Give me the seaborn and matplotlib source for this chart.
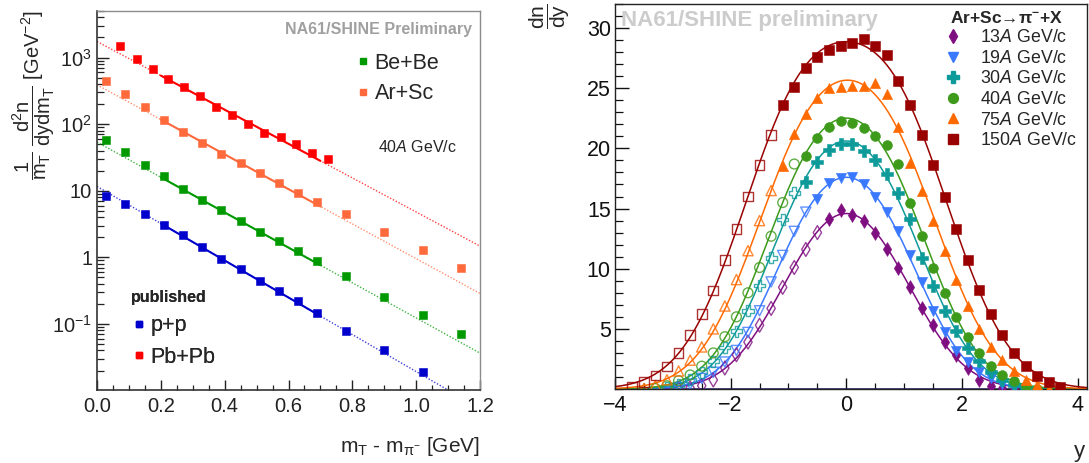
"""
NA61/SHINE negative pion spectra.

Left: transverse mass spectra at 40A GeV/c for p+p, Be+Be, Ar+Sc, Pb+Pb.
Right: Ar+Sc rapidity distributions at six beam momenta.
"""

import matplotlib

matplotlib.use("Agg")

import matplotlib.pyplot as plt
import numpy as np
import seaborn as sns
from matplotlib.lines import Line2D
from matplotlib.ticker import FixedLocator, FuncFormatter, LogLocator, MultipleLocator, NullFormatter

# ---------------------------------------------------------------------------
# Left panel data: 1/mT d2n/dydmT vs mT - m_pi  (40A GeV/c)
# ---------------------------------------------------------------------------
mt_x = [0.028, 0.088, 0.149, 0.209, 0.270, 0.330, 0.389, 0.450,
        0.510, 0.569, 0.630, 0.690, 0.780, 0.900, 1.021, 1.141]
mt_x_pbpb = [0.073, 0.124, 0.174, 0.223, 0.274, 0.324, 0.374,
             0.424, 0.474, 0.524, 0.575, 0.624, 0.674, 0.724]

spec_pp = [8.2, 6.3, 4.5, 3.1, 2.14, 1.45, 0.94, 0.66,
           0.447, 0.309, 0.224, 0.148, 0.079, 0.040, 0.0188]
spec_bebe = [57, 37.6, 24.5, 16.4, 10.8, 7.3, 5.1, 3.55,
             2.43, 1.78, 1.23, 0.89, 0.53, 0.25, 0.138, 0.070]
spec_arsc = [442, 279, 178, 115, 76, 52, 36, 26,
             18.2, 13.0, 9.3, 6.8, 4.5, 2.4, 1.27, 0.69]
spec_pbpb = [1514, 944, 676, 484, 367, 260, 178,
             138, 99, 74, 64, 51, 37, 30]

# exponential fits: value at mT - m = 0 and slope in decades per GeV
fit_norm = {"p+p": 11.6, "Be+Be": 53.7, "Ar+Sc": 389, "Pb+Pb": 1740}
fit_slope = {"p+p": 2.78, "Be+Be": 2.64, "Ar+Sc": 2.61, "Pb+Pb": 2.56}
fit_range = (0.2, 0.7)

# ---------------------------------------------------------------------------
# Right panel data: Ar+Sc -> pi- + X, dn/dy (filled = measured, open = reflected)
# ---------------------------------------------------------------------------
beam_labels = ["13", "19", "30", "40", "75", "150"]

y13 = [-0.3, -0.1, 0.1, 0.3, 0.5, 0.7, 0.9, 1.1, 1.3, 1.5, 1.7, 1.9, 2.1, 2.3, 2.5, 2.7, 2.9]
dn13 = [14.1, 14.9, 14.5, 14.0, 13.0, 11.6, 10.1, 8.45, 6.7, 5.3, 3.9, 2.85, 1.75, 0.75, 0.28, 0.08, 0.03]
y13_refl = [-2.9, -2.7, -2.5, -2.3, -2.1, -1.9, -1.7, -1.5, -1.3, -1.1, -0.9, -0.7, -0.5]
dn13_refl = [0.03, 0.08, 0.28, 0.75, 1.75, 2.85, 3.9, 5.3, 6.7, 8.45, 10.1, 11.6, 13.0]

y19 = [-0.5, -0.3, -0.1, 0.1, 0.3, 0.5, 0.7, 0.9, 1.1, 1.3, 1.5, 1.7, 1.9, 2.1, 2.3, 2.5, 2.7, 2.9]
dn19 = [15.8, 17.1, 17.5, 17.6, 17.0, 16.0, 14.7, 13.1, 11.1, 8.9, 6.5, 4.7, 3.2, 2.24, 1.39, 0.88, 0.4, 0.12]
y19_refl = [-2.9, -2.7, -2.5, -2.3, -2.1, -1.9, -1.7, -1.5, -1.3, -1.1, -0.9, -0.7]
dn19_refl = [0.12, 0.4, 0.88, 1.39, 2.24, 3.2, 4.7, 6.5, 8.9, 11.1, 13.1, 14.7]

y30 = [-0.7, -0.5, -0.3, -0.1, 0.1, 0.3, 0.5, 0.7, 0.9, 1.1, 1.3, 1.5, 1.7, 1.9, 2.1, 2.3, 2.5, 2.7, 2.9, 3.1]
dn30 = [17.2, 18.9, 19.9, 20.4, 20.4, 19.8, 19.0, 17.9, 16.3, 14.1, 10.9, 8.6, 6.5, 4.8, 3.45, 2.3, 1.4, 0.77, 0.35, 0.08]
y30_refl = [-3.1, -2.9, -2.7, -2.5, -2.3, -2.1, -1.9, -1.7, -1.5, -1.3, -1.1, -0.9]
dn30_refl = [0.08, 0.35, 0.77, 1.4, 2.3, 3.45, 4.8, 6.5, 8.6, 10.9, 14.1, 16.3]

y40 = [-0.7, -0.5, -0.3, -0.1, 0.1, 0.3, 0.5, 0.7, 0.9, 1.1, 1.3, 1.5, 1.7, 1.9, 2.1, 2.3, 2.5, 2.7, 2.9, 3.1, 3.3]
dn40 = [19.4, 20.9, 21.8, 22.3, 22.1, 21.7, 21.05, 20.3, 18.7, 15.5, 12.7, 10.1, 8.0, 6.0, 4.35, 3.0, 1.9, 1.17, 0.69, 0.27, 0.04]
y40_refl = [-3.3, -3.1, -2.9, -2.7, -2.5, -2.3, -2.1, -1.9, -1.7, -1.5, -1.3, -1.1, -0.9]
dn40_refl = [0.04, 0.27, 0.69, 1.17, 1.9, 3.0, 4.35, 6.0, 8.0, 10.1, 12.7, 15.5, 18.7]

y75 = [-1.1, -0.9, -0.7, -0.5, -0.3, -0.1, 0.1, 0.3, 0.5, 0.7, 0.9, 1.1,
       1.3, 1.5, 1.7, 1.9, 2.1, 2.3, 2.5, 2.7, 2.9, 3.1, 3.3, 3.5]
dn75 = [18.5, 21.2, 22.9, 24.2, 25.0, 25.1, 25.2, 25.2, 25.4, 24.5, 21.8, 18.8,
        16.5, 14.0, 11.5, 9.1, 6.9, 5.0, 3.5, 2.4, 1.5, 0.77, 0.3, 0.04]
y75_refl = [-3.5, -3.3, -3.1, -2.9, -2.7, -2.5, -2.3, -2.1, -1.9, -1.7, -1.5, -1.3]
dn75_refl = [0.04, 0.3, 0.77, 1.5, 2.4, 3.5, 5.0, 6.9, 9.1, 11.5, 14.0, 16.5]

y150 = [-1.1, -0.9, -0.7, -0.5, -0.3, -0.1, 0.1, 0.3, 0.5, 0.7, 0.9, 1.1, 1.3,
        1.5, 1.7, 1.9, 2.1, 2.3, 2.5, 2.7, 2.9, 3.1, 3.3, 3.5, 3.7]
dn150 = [23.6, 25.1, 26.7, 27.6, 28.2, 28.5, 28.8, 29.1, 28.5, 27.8, 25.6, 23.6, 21.1,
         18.6, 16.0, 13.3, 10.7, 8.2, 6.25, 4.5, 3.0, 1.88, 1.12, 0.58, 0.2]
y150_refl = [-3.7, -3.5, -3.3, -3.1, -2.9, -2.7, -2.5, -2.3, -2.1, -1.9, -1.7, -1.5, -1.3]
dn150_refl = [0.2, 0.58, 1.12, 1.88, 3.0, 4.5, 6.25, 8.2, 10.7, 13.3, 16.0, 18.6, 21.1]


def double_gauss(y, amp, center, shift, sigma):
    """Sum of two Gaussians placed symmetrically around center."""
    return amp * (np.exp(-(y - center - shift) ** 2 / (2 * sigma ** 2))
                  + np.exp(-(y - center + shift) ** 2 / (2 * sigma ** 2)))


def fit_double_gauss(x, y):
    """Brute-force least squares on a grid; amplitude is solved analytically."""
    x = np.asarray(x, dtype=float)[None, :]
    y = np.asarray(y, dtype=float)[None, :]
    centers = np.arange(-0.2, 0.201, 0.02)
    shifts = np.arange(0.0, 1.6, 0.04)
    sigmas = np.arange(0.5, 1.6, 0.02)
    grid = np.array(np.meshgrid(centers, shifts, sigmas, indexing="ij")).reshape(3, -1).T
    c, s0, sg = grid[:, 0:1], grid[:, 1:2], grid[:, 2:3]
    shape = double_gauss(x, 1.0, c, s0, sg)
    amp = (shape * y).sum(1) / (shape ** 2).sum(1)
    chi2 = ((amp[:, None] * shape - y) ** 2).sum(1)
    best = np.argmin(chi2)
    return amp[best], c[best, 0], s0[best, 0], sg[best, 0]


def plot_mt_panel(ax):
    systems = [
        ("p+p", mt_x[:len(spec_pp)], spec_pp, "#0000cc"),
        ("Be+Be", mt_x, spec_bebe, "#009a00"),
        ("Ar+Sc", mt_x, spec_arsc, "#ff6a3d"),
        ("Pb+Pb", mt_x_pbpb, spec_pbpb, "#ff0000"),
    ]
    for name, x, y, color in systems:
        # full fit extrapolation (dotted) and fitted range (solid)
        x_all = np.array([0.0, 1.2])
        x_fit = np.array(fit_range)
        sns.lineplot(x=x_all, y=fit_norm[name] * 10 ** (-fit_slope[name] * x_all), ax=ax,
                     color=color, lw=1.0, ls=(0, (1, 1.3)), alpha=0.75, zorder=2)
        sns.lineplot(x=x_fit, y=fit_norm[name] * 10 ** (-fit_slope[name] * x_fit), ax=ax,
                     color=color, lw=1.5, zorder=2)
        sns.scatterplot(x=x, y=y, ax=ax, marker="s", s=26, color=color,
                        edgecolor=color, linewidth=0.4, zorder=3)

    ax.set_yscale("log")
    ax.set_xlim(0, 1.2)
    ax.set_ylim(0.0102, 5000)
    ax.xaxis.set_major_locator(MultipleLocator(0.2))
    ax.xaxis.set_minor_locator(MultipleLocator(0.05))
    ax.xaxis.set_major_formatter(FuncFormatter(lambda v, _: f"{v:.1f}"))
    decade_labels = {1000: "$10^{3}$", 100: "$10^{2}$", 10: "10", 1: "1", 0.1: "$10^{-1}$"}
    ax.yaxis.set_major_locator(FixedLocator(list(decade_labels)))
    ax.yaxis.set_major_formatter(FuncFormatter(
        lambda v, _: next((t for k, t in decade_labels.items() if np.isclose(v, k)), "")))
    ax.yaxis.set_minor_locator(LogLocator(base=10, subs=np.arange(2, 10), numticks=20))
    ax.yaxis.set_minor_formatter(NullFormatter())
    ax.tick_params(axis="both", which="both", direction="in", top=False, right=False,
                   labelsize=14.5, colors="#222222")
    ax.tick_params(axis="y", which="major", length=8.5, width=1.0, pad=3.5)
    ax.tick_params(axis="y", which="minor", length=5, width=0.9)
    ax.tick_params(axis="x", which="major", length=7, width=1.0, pad=5)
    ax.tick_params(axis="x", which="minor", length=3.6, width=0.9)
    for side in ["left", "bottom"]:
        ax.spines[side].set_color("#333333")
        ax.spines[side].set_linewidth(1.2)
    for side in ["top", "right"]:
        ax.spines[side].set_color("#8c8c8c")
        ax.spines[side].set_linewidth(1.0)
    ax.set_xlabel("")
    ax.set_ylabel("")

    ax.text(0.979, 0.95, "NA61/SHINE Preliminary", transform=ax.transAxes,
            ha="right", va="center", fontsize=11.5, fontweight="bold", color="#a0a0a0")
    ax.text(0.734, 0.641, r"40$\mathit{A}$ GeV/c", transform=ax.transAxes,
            ha="left", va="center", fontsize=11.5)

    handles = [Line2D([], [], ls="none", marker="s", markersize=4.5, color=c)
               for c in ["#009a00", "#ff6a3d"]]
    leg_new = ax.legend(handles, ["Be+Be", "Ar+Sc"], loc="upper left",
                        bbox_to_anchor=(0.680, 0.890), frameon=False, fontsize=15.5,
                        handlelength=0.5, handletextpad=0.3, labelspacing=0.44,
                        borderpad=0, borderaxespad=0)
    ax.add_artist(leg_new)

    handles = [Line2D([], [], ls="none", marker="s", markersize=4.5, color=c)
               for c in ["#0000cc", "#ff0000"]]
    leg_pub = ax.legend(handles, ["p+p", "Pb+Pb"], loc="upper left", title="published",
                        bbox_to_anchor=(0.088, 0.264), frameon=False, fontsize=15.5,
                        handlelength=0.75, handletextpad=0.15, labelspacing=0.48,
                        borderpad=0, borderaxespad=0, alignment="left",
                        title_fontproperties={"weight": "bold", "size": 11.5})
    ax.add_artist(leg_pub)


def plot_rapidity_panel(ax):
    series = [
        ("13", y13, dn13, y13_refl, dn13_refl, "#7f0f80", "d", 50),
        ("19", y19, dn19, y19_refl, dn19_refl, "#3a78ff", "v", 54),
        ("30", y30, dn30, y30_refl, dn30_refl, "#0f9a9a", "P", 64),
        ("40", y40, dn40, y40_refl, dn40_refl, "#3d9a1b", "o", 50),
        ("75", y75, dn75, y75_refl, dn75_refl, "#ff6a00", "^", 54),
        ("150", y150, dn150, y150_refl, dn150_refl, "#990000", "s", 48),
    ]
    y_grid = np.linspace(-4.0, 4.16, 400)

    ax.axhline(0, color="#14145a", lw=1.8, zorder=1.5)
    for label, yf, df, yo, do, color, marker, size in series:
        amp, center, shift, sigma = fit_double_gauss(yf + yo, df + do)
        sns.lineplot(x=y_grid, y=double_gauss(y_grid, amp, center, shift, sigma), ax=ax,
                     color=color, lw=1.1, zorder=2)
        sns.scatterplot(x=yo, y=do, ax=ax, marker=marker, s=size, color=color,
                        facecolor="none", edgecolor=color, linewidth=1.0, alpha=0.8, zorder=3)
        sns.scatterplot(x=yf, y=df, ax=ax, marker=marker, s=size, color=color,
                        edgecolor=color, linewidth=0.4, zorder=4)

    ax.set_xlim(-4.0, 4.16)
    ax.set_ylim(0, 32)
    ax.xaxis.set_major_locator(MultipleLocator(2))
    ax.xaxis.set_minor_locator(MultipleLocator(0.5))
    ax.yaxis.set_major_locator(FixedLocator([5, 10, 15, 20, 25, 30]))
    ax.yaxis.set_minor_locator(MultipleLocator(1))
    ax.tick_params(axis="both", which="both", direction="in", top=False, right=False,
                   labelsize=15.5, colors="#111111")
    ax.tick_params(axis="y", which="major", length=10, width=1.0, pad=3)
    ax.tick_params(axis="y", which="minor", length=5.5, width=0.9)
    ax.tick_params(axis="x", which="major", length=8, width=1.0, pad=4)
    ax.tick_params(axis="x", which="minor", length=4.3, width=0.9)
    for side in ax.spines.values():
        side.set_color("#222222")
        side.set_linewidth(1.0)
    ax.set_xlabel("")
    ax.set_ylabel("")

    ax.text(0.013, 0.956, "NA61/SHINE preliminary", transform=ax.transAxes,
            ha="left", va="center", fontsize=16, fontweight="bold", color="#cccccc", zorder=1)

    handles = [Line2D([], [], ls="none", marker=m, markersize=np.sqrt(s), color=c)
               for _, _, _, _, _, c, m, s in series]
    labels = [rf"{lab}$\mathit{{A}}$ GeV/c" for lab in beam_labels]
    ax.legend(handles, labels, loc="upper left", bbox_to_anchor=(0.709, 0.985),
              title="Ar+Sc\u2192\u03c0$^{-}$+X", frameon=False, fontsize=12.8,
              handlelength=0.4, handletextpad=1.3, labelspacing=0.2,
              borderpad=0, borderaxespad=0, alignment="left",
              title_fontproperties={"weight": "bold", "size": 12.5})


sns.set_theme(style="ticks")
plt.rcParams.update({
    "font.family": ["Liberation Sans", "DejaVu Sans"],
    "mathtext.fontset": "custom",
    "mathtext.default": "regular",
    "mathtext.rm": "Liberation Sans",
    "mathtext.it": "Liberation Sans:italic",
    "mathtext.bf": "Liberation Sans:bold",
    "axes.facecolor": "white",
    "figure.facecolor": "white",
})

fig = plt.figure(figsize=(10.89, 4.63), dpi=100)
ax_mt = fig.add_axes([0.0891, 0.1577, 0.3517, 0.8186])
ax_rap = fig.add_axes([0.5647, 0.1598, 0.4334, 0.8315])

plot_mt_panel(ax_mt)
plot_rapidity_panel(ax_rap)

fig.text(34 / 1089, 1 - 10 / 463,
         r"$\dfrac{1}{m_{T}}\ \dfrac{d^{2}n}{dydm_{T}}$ [GeV$^{-2}$]",
         rotation=90, ha="center", va="top", fontsize=14.5)
fig.text(480 / 1089, 1 - 447 / 463, r"m$_{T}$ - m$_{\pi^{-}}$ [GeV]",
         ha="right", va="center", fontsize=15)
fig.text(550 / 1089, 1 - 4 / 463, r"$\dfrac{dn}{dy}$", rotation=90,
         ha="center", va="top", fontsize=15)
fig.text(1085 / 1089, 1 - 452 / 463, "y", ha="right", va="center", fontsize=16)

fig.savefig("out.png", dpi=100)
plt.close(fig)
